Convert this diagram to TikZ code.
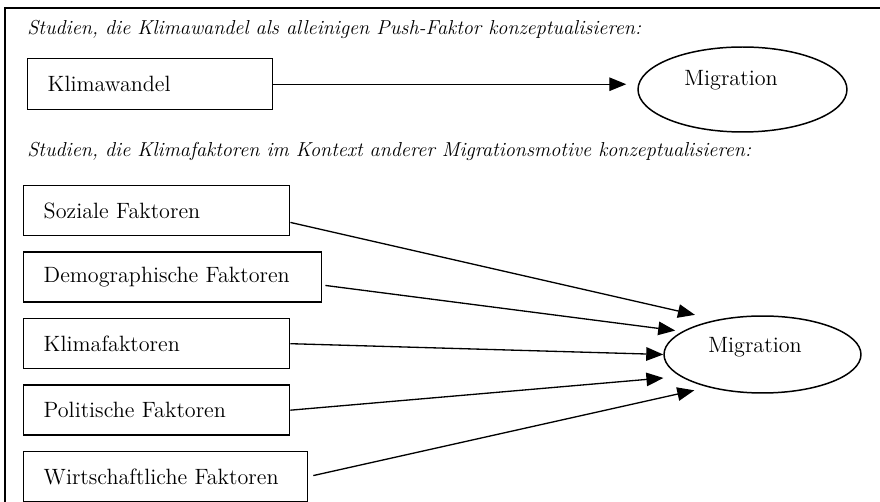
\documentclass[tikz,border=0pt]{standalone}
\usetikzlibrary{shapes.geometric,arrows.meta,positioning}

\begin{document}
\begin{tikzpicture}[x=0.02cm,y=-0.02cm,node distance=0.3cm,
    font=\fontsize{12.6}{15}\selectfont,
    faktor/.style={draw,rectangle,line width=0.85pt,minimum height=1cm,
      inner xsep=0.4cm,inner ysep=0pt,align=left,text width=#1},
    ziel/.style={draw,ellipse,line width=0.85pt,inner sep=0pt},
    titel/.style={anchor=base west,inner sep=0pt,font=\fontsize{11.5}{14}\selectfont\itshape},
    pfeil/.style={-{Triangle[length=0.34cm,width=0.27cm]},line width=0.75pt}]
   \useasboundingbox (0,0) rectangle (880,502);
   \draw[line width=1.2pt] (5,510) -- (5,8) -- (890,8);

   % Klimawandel als alleiniger Push-Faktor
   \node[titel] (titel1) at (27,35) {Studien, die Klimawandel als alleinigen Push-Faktor konzeptualisieren:};
   \node[faktor=4.1cm,minimum height=1.02cm,anchor=north west] (kw) at (27,58) {Klimawandel};
   \node[ziel,minimum width=4.18cm,minimum height=1.7cm,
     label={[xshift=-0.23cm,yshift=0.19cm]center:Migration}] (mig1) at (742.5,89.5) {};
   \draw[pfeil,shorten >=0.22cm] (kw) -- (kw -| mig1.west);

   % Klimafaktoren im Kontext anderer Motive
   \node[titel] (titel2) at (27,157) {Studien, die Klimafaktoren im Kontext anderer Migrationsmotive konzeptualisieren:};
   \node[faktor=4.52cm,anchor=north west] (soz) at (23,185) {Soziale Faktoren};
   \node[faktor=5.16cm] (demo) [below=of soz.south west,anchor=north west] {Demographische Faktoren};
   \node[faktor=4.52cm] (klf) [below=of demo.south west,anchor=north west] {Klimafaktoren};
   \node[faktor=4.52cm] (pol) [below=of klf.south west,anchor=north west] {Politische Faktoren};
   \node[faktor=4.88cm] (wirt) [below=of pol.south west,anchor=north west] {Wirtschaftliche Faktoren};
   \node[ziel,minimum width=3.94cm,minimum height=1.54cm,
     label={[xshift=-0.15cm,yshift=0.15cm]center:Migration}] (mig2) at (762.5,354.5) {};

    \path[pfeil]
    (soz.-5)  edge [shorten >=0.44cm] (mig2.143)
    (demo.-3) edge [shorten <=0.06cm,shorten >=0.14cm] (mig2.164)
    (klf.east) edge (mig2.west)
    (pol.east) edge [shorten >=0.34cm] (mig2.195)
    (wirt.east) edge [shorten <=0.1cm,shorten >=0.28cm] (mig2.211);
\end{tikzpicture}
\end{document}
